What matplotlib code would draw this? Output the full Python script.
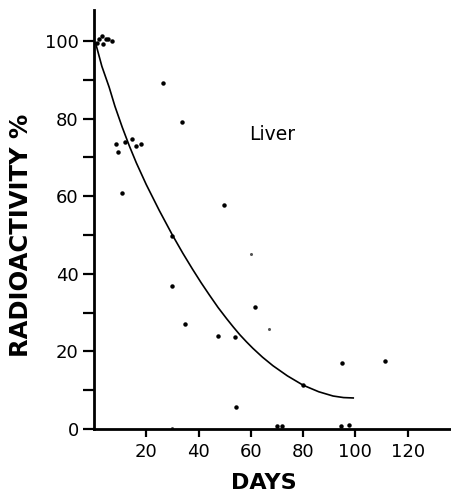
#!/usr/bin/env python3
"""Liver radioactivity retention vs days (scanned figure recreation)."""

import matplotlib
matplotlib.use("Agg")
import matplotlib.pyplot as plt

# Measured points (days, % radioactivity)
pts_days = [1, 2, 3, 3.5, 4.5, 5.5, 7,
            8.5, 9, 12, 14.6, 16, 18,
            10.8, 26.5, 33.5, 30, 30, 35, 47.3, 49.6, 53.8, 54.2, 61.5,
            70, 72, 80, 94.6, 95, 97.7, 111.5]
pts_pct = [99.5, 100.5, 101.2, 99.3, 100.6, 100.4, 100,
           73.5, 71.4, 74, 74.7, 72.9, 73.5,
           60.8, 89.2, 79.1, 49.7, 36.9, 27, 24, 57.7, 23.7, 5.7, 31.5,
           0.8, 0.8, 11.4, 0.9, 17, 1.0, 17.5]

# faint specks
faint_days = [60, 67, 30]
faint_pct = [45.1, 25.8, 0.2]

# fitted curve
curve_days = [0, 0.8, 3, 5.8, 8, 10.8, 13.5, 16.2, 20, 25, 30, 34, 37.7,
              41, 44.2, 47.5, 50.8, 53.3, 55.8, 58.3, 60.8, 64.5, 68.5, 74,
              80, 86, 91.5, 95.5, 99.2]
curve_pct = [100, 99, 93.5, 88.1, 83.2, 77.8, 73.0, 68.6, 63.0, 56.3, 50.0,
             45.3, 41.2, 37.7, 34.5, 31.3, 28.4, 26.3, 24.3, 22.5, 20.8,
             18.5, 16.3, 13.7, 11.3, 9.6, 8.5, 8.1, 8.0]

xticks = [20, 40, 60, 80, 100, 120]
yticks = [0, 20, 40, 60, 80, 100]
yminor = [10, 30, 50, 70, 90]

fig = plt.figure(figsize=(4.52, 4.93), dpi=100)
ax = fig.add_axes([94 / 452, 64 / 493, 1 - 94 / 452, 419 / 493])

ax.plot(curve_days, curve_pct, color="black", linewidth=1.2)
ax.plot(pts_days, pts_pct, "o", color="black", markersize=2.2, linestyle="none")
ax.plot(faint_days, faint_pct, "o", color="#555555", markersize=1.2, linestyle="none")

ax.text(59.5, 75.8, "Liver", fontsize=13.5, va="center", ha="left")

ax.set_xlim(0, 137)
ax.set_ylim(0, 108)
ax.set_xticks(xticks)
ax.set_yticks(yticks)
ax.set_yticks(yminor, minor=True)

for side in ["top", "right"]:
    ax.spines[side].set_visible(False)
for side in ["left", "bottom"]:
    ax.spines[side].set_linewidth(2)

ax.tick_params(axis="y", which="major", direction="out", length=8, width=1.6,
               labelsize=13, pad=3)
ax.tick_params(axis="y", which="minor", direction="out", length=8, width=1.6)
ax.tick_params(axis="x", which="major", direction="out", length=6, width=1.6,
               labelsize=13, pad=4)

ax.set_xlabel("DAYS", fontsize=16, fontweight="bold")
ax.set_ylabel("RADIOACTIVITY %", fontsize=17.5, fontweight="bold")
ax.xaxis.set_label_coords(0.475, -0.105)
ax.yaxis.set_label_coords(-0.17, 0.463)

plt.savefig("out.png", dpi=100)
plt.close()
